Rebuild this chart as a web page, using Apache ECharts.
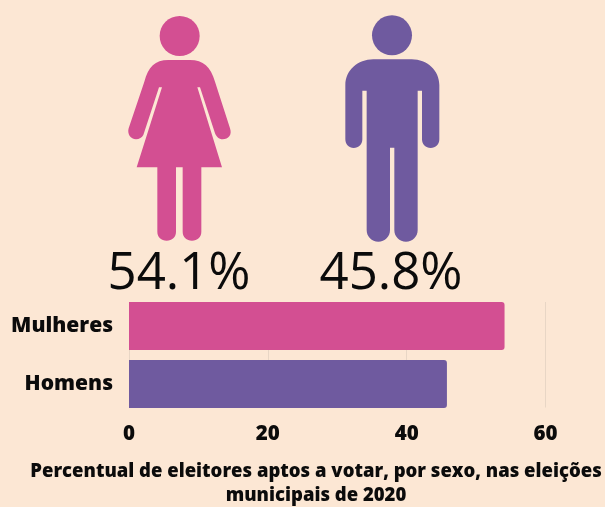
<!DOCTYPE html>
<html>
<head>
<meta charset="utf-8">
<style>
  html, body { margin: 0; padding: 0; background: #fce7d4; }
  #chart { width: 605px; height: 507px; }
</style>
<script src="https://cdn.jsdelivr.net/npm/echarts@6/dist/echarts.min.js"></script>
</head>
<body>
<div id="chart"></div>
<script>
  var categories = ['Mulheres', 'Homens'];
  var values = [54.1, 45.8];
  var percentLabels = ['54.1%', '45.8%'];
  var barColors = ['#d34f92', '#6f5a9f'];
  var titleText = 'Percentual de eleitores aptos a votar, por sexo, nas eleições\nmunicipais de 2020';

  // figures traced at 3x, so the groups below scale them by 1/3
  var womanPath = 'M205 180 L270 180 C310 180 332 200 345 245 L390 385 C397 405 385 418 368 418 C356 418 349 410 345 400 L300 262 L292 262 L366 502 L304 502 L304 695 C304 711 292 722 276 722 C260 722 248 711 248 695 L248 502 L228 502 L228 695 C228 711 216 722 200 722 C184 722 172 711 172 695 L172 502 L110 502 L186 262 L177 262 L130 405 C126 412 118 418 108 418 C92 418 81 402 86 385 L133 245 C145 200 165 180 205 180 Z';
  var manPath = 'M160 178 L275 178 C322 178 358 212 358 255 L358 418 C358 433 347 444 332 444 C317 444 306 433 306 418 L306 272 L293 272 L293 690 C293 710 278 725 258 725 C238 725 223 710 223 690 L223 443 L210 443 L210 690 C210 710 195 725 175 725 C155 725 140 710 140 690 L140 272 L127 272 L127 418 C127 433 116 444 101 444 C87 444 76 433 76 418 L76 255 C76 212 113 178 160 178 Z';

  function figure(x, color, head, path) {
    return {
      type: 'group',
      x: x,
      scaleX: 1 / 3,
      scaleY: 1 / 3,
      children: [
        { type: 'circle', shape: { cx: head[0], cy: head[1], r: head[2] }, style: { fill: color } },
        { type: 'path', shape: { pathData: path }, style: { fill: color } }
      ]
    };
  }

  var myChart = echarts.init(document.getElementById('chart'));
  myChart.setOption({
    backgroundColor: '#fce7d4',
    animation: false,
    textStyle: { fontFamily: 'Open Sans' },
    title: {
      text: titleText,
      left: 311,
      top: 455,
      textAlign: 'center',
      textStyle: { fontFamily: 'Open Sans', fontSize: 18.5, fontWeight: 800, color: '#0b0b0b', lineHeight: 24 }
    },
    // first grid places the bars, second one only carries the shorter gridlines and ticks
    grid: [
      { left: 129, top: 297, width: 416.5, height: 116 },
      { left: 129, top: 302, width: 416.5, height: 105.5 }
    ],
    xAxis: [
      {
        gridIndex: 0,
        type: 'value',
        min: 0,
        max: 60,
        show: false
      },
      {
        gridIndex: 1,
        type: 'value',
        min: 0,
        max: 60,
        interval: 20,
        axisLine: { show: false },
        axisTick: { show: false },
        splitLine: { show: true, lineStyle: { color: '#e8d6c5', width: 1 } },
        axisLabel: { color: '#0b0b0b', fontFamily: 'Open Sans', fontSize: 20.5, fontWeight: 800, margin: 16 }
      }
    ],
    yAxis: [
      {
        gridIndex: 0,
        type: 'category',
        inverse: true,
        data: categories,
        axisLine: { show: false },
        axisTick: { show: false },
        axisLabel: { color: '#0b0b0b', fontFamily: 'Open Sans', fontSize: 21, fontWeight: 800, margin: 16, padding: [6, 0, 0, 0] }
      },
      {
        gridIndex: 1,
        type: 'category',
        show: false,
        data: categories
      }
    ],
    graphic: [
      { type: 'text', x: 179, y: 274, style: { text: percentLabels[0], fontFamily: 'Open Sans', fontSize: 51, fill: '#0b0b0b', align: 'center', verticalAlign: 'middle' } },
      { type: 'text', x: 391, y: 274, style: { text: percentLabels[1], fontFamily: 'Open Sans', fontSize: 51, fill: '#0b0b0b', align: 'center', verticalAlign: 'middle' } }
    ],
    series: [
      {
        type: 'bar',
        xAxisIndex: 0,
        yAxisIndex: 0,
        barWidth: 48,
        data: values.map(function (v, i) {
          return { value: v, itemStyle: { color: barColors[i] } };
        }),
        itemStyle: { borderRadius: [0, 3, 3, 0] }
      },
      {
        type: 'custom',
        coordinateSystem: 'none',
        silent: true,
        data: [0],
        renderItem: function () {
          return {
            type: 'group',
            children: [
              figure(100, barColors[0], [239, 108, 60], womanPath),
              figure(320, barColors[1], [216, 106, 60], manPath)
            ]
          };
        }
      }
    ]
  });
</script>
</body>
</html>
